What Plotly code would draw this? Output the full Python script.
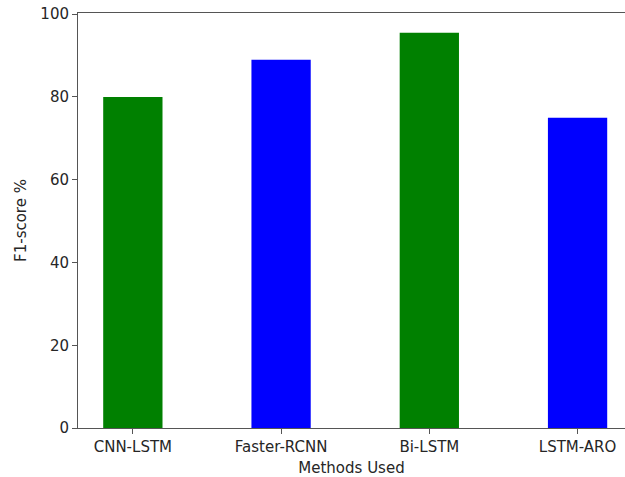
import plotly.graph_objects as go

methods = ["CNN-LSTM", "Faster-RCNN", "Bi-LSTM", "LSTM-ARO"]
f1_scores = [80.0, 89.0, 95.5, 75.0]
bar_colors = ["#008000", "#0000ff", "#008000", "#0000ff"]
y_ticks = [0, 20, 40, 60, 80, 100]

fig = go.Figure()
fig.add_trace(go.Bar(
    x=list(range(len(methods))), y=f1_scores,
    marker=dict(color=bar_colors, line=dict(width=0)),
    width=0.4,
))

font_color = "#262626"
fig.update_layout(
    width=625, height=477,
    margin=dict(l=78, r=0, t=13, b=49),
    plot_bgcolor="white", paper_bgcolor="white",
    showlegend=False,
    font=dict(family="DejaVu Sans", size=15, color=font_color),
    xaxis=dict(
        range=[-0.37, 3.32],
        tickmode="array", tickvals=list(range(len(methods))), ticktext=methods,
        showline=True, linecolor="#555", linewidth=1, mirror=True,
        ticks="outside", ticklen=5, tickcolor="#555",
        showgrid=False, zeroline=False,
        title=dict(text="Methods Used", standoff=8, font=dict(size=15)),
    ),
    yaxis=dict(
        range=[0, 100.3],
        tickmode="array", tickvals=y_ticks,
        showline=True, linecolor="#555", linewidth=1,
        ticks="outside", ticklen=5, tickcolor="#555",
        showgrid=False, zeroline=False,
        title=dict(text="F1-score %", standoff=10, font=dict(size=15)),
    ),
)

fig.write_html(
    "out.html",
    config={"displayModeBar": False},
    post_script="document.body.style.margin='0';document.body.style.overflow='hidden';",
)
